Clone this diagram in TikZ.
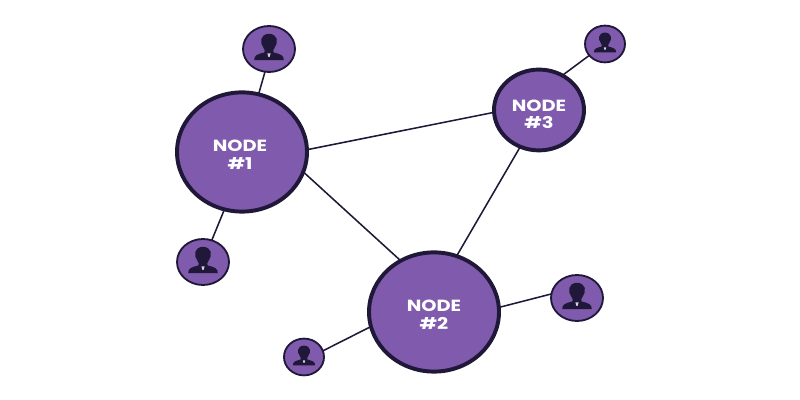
\documentclass[tikz,border=0pt]{standalone}
\usepackage{fontspec}
\newfontfamily\hubfont[FakeStretch=1.2]{Poppins}
\usetikzlibrary{shapes.geometric}
\definecolor{hubfill}{HTML}{7F5AAD}
\definecolor{hubline}{HTML}{1F1838}
\tikzset{
  hub/.style={ellipse,draw=hubline,fill=hubfill,line width=2.8pt,outer sep=0pt,inner sep=0pt},
  hubtext/.style={text=white,align=center,inner sep=0pt,font=\hubfont\bfseries\fontsize{11.5}{12.2}\selectfont},
  user/.style={ellipse,draw=hubline,fill=hubfill,line width=1.3pt,outer sep=0pt,inner sep=0pt},
  link/.style={hubline,line width=1.1pt},
  person/.pic={
    \fill[hubline]
      (-0.37,-0.28) .. controls (-0.37,-0.16) and (-0.3,-0.13) .. (-0.12,-0.09)
      .. controls (-0.09,-0.06) and (-0.1,-0.02) .. (-0.14,0.03)
      .. controls (-0.24,0.16) and (-0.23,0.37) .. (0,0.38)
      .. controls (0.23,0.37) and (0.24,0.16) .. (0.14,0.03)
      .. controls (0.1,-0.02) and (0.09,-0.06) .. (0.12,-0.09)
      .. controls (0.3,-0.13) and (0.37,-0.16) .. (0.37,-0.28) -- cycle;
    \fill[white!70!hubfill] (-0.04,-0.11) -- (0.04,-0.11) -- (0.015,-0.2) -- (-0.015,-0.2) -- cycle;
  }
}
\begin{document}
\begin{tikzpicture}
  \useasboundingbox (0,0) rectangle (20,10);

  \node[hub,minimum width=3.25cm,minimum height=2.98cm] (hubone) at (6.05,6.2) {};
  \node[hub,minimum width=3.25cm,minimum height=2.98cm] (hubtwo) at (10.85,2.2) {};
  \node[hub,minimum width=2.25cm,minimum height=2.02cm] (hubthree) at (13.475,7.25) {};

  \node[hubtext] (textone) at (6,6.13) {NODE\\\#1};
  \node[hubtext] (texttwo) at (10.85,2.13) {NODE\\\#2};
  \node[hubtext] (textthree) at (13.475,7.14) {NODE\\\#3};

  \node[user,minimum width=1.3cm,minimum height=1.15cm] (usera) at (6.725,8.775) {};
  \node[user,minimum width=1.3cm,minimum height=1.15cm] (userb) at (5.075,3.45) {};
  \node[user,minimum width=1.3cm,minimum height=1.15cm] (userc) at (14.425,2.55) {};
  \node[user,minimum width=1cm,minimum height=0.92cm] (userd) at (7.6,1.075) {};
  \node[user,minimum width=1cm,minimum height=0.92cm] (usere) at (15.125,8.9) {};

  \foreach \q in {usera,userb,userc}
    \pic[scale=1] at (\q) {person};
  \foreach \q in {userd,usere}
    \pic[scale=0.75] at (\q) {person};

  \draw[link] (hubone.2) -- (hubthree.183);
  \draw[link] (hubone.-18) -- (hubtwo.123);
  \draw[link] (hubtwo.68) -- (hubthree.243);
  \draw[link] (hubone.74) -- (usera.260);
  \draw[link] (hubone.253) -- (userb.68);
  \draw[link] (hubtwo.193) -- (userd.18);
  \draw[link] (hubtwo.4) -- (userc.171);
  \draw[link] (hubthree.56) -- (usere.216);
\end{tikzpicture}
\end{document}
